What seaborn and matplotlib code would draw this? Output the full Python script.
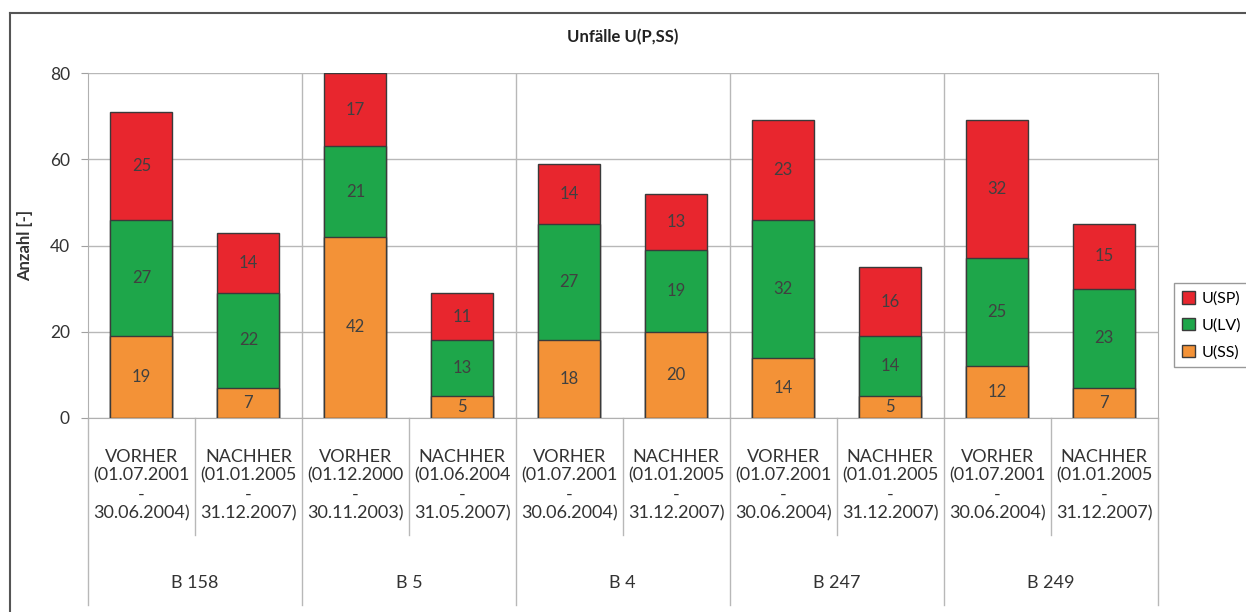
import numpy as np
import pandas as pd
import matplotlib.pyplot as plt
import matplotlib.transforms as mtransforms
from matplotlib.patches import Patch
import seaborn as sns

strecken = ['B 158', 'B 5', 'B 4', 'B 247', 'B 249']
zeitraum = [
    'VORHER\n(01.07.2001\n-\n30.06.2004)', 'NACHHER\n(01.01.2005\n-\n31.12.2007)',
    'VORHER\n(01.12.2000\n-\n30.11.2003)', 'NACHHER\n(01.06.2004\n-\n31.05.2007)',
    'VORHER\n(01.07.2001\n-\n30.06.2004)', 'NACHHER\n(01.01.2005\n-\n31.12.2007)',
    'VORHER\n(01.07.2001\n-\n30.06.2004)', 'NACHHER\n(01.01.2005\n-\n31.12.2007)',
    'VORHER\n(01.07.2001\n-\n30.06.2004)', 'NACHHER\n(01.01.2005\n-\n31.12.2007)',
]
u_ss = [19, 7, 42, 5, 18, 20, 14, 5, 12, 7]
u_lv = [27, 22, 21, 13, 27, 19, 32, 14, 25, 23]
u_sp = [25, 14, 17, 11, 14, 13, 23, 16, 32, 15]

c_sp = '#E8262E'
c_lv = '#1EA64A'
c_ss = '#F39237'

plt.rcParams['font.family'] = ['Lato', 'DejaVu Sans']

df = pd.DataFrame({'pos': range(len(u_ss)), 'ss': u_ss, 'lv': u_lv, 'sp': u_sp})
df['ss_lv'] = df['ss'] + df['lv']
df['total'] = df['ss_lv'] + df['sp']

fig = plt.figure(figsize=(12.46, 6.12), dpi=100)
ax = fig.add_axes([0.0706, 0.317, 0.8584, 0.5637])

# stacked bars drawn as overlapping cumulative totals
for col, color in [('total', c_sp), ('ss_lv', c_lv), ('ss', c_ss)]:
    sns.barplot(data=df, x='pos', y=col, color=color, width=0.58,
                edgecolor='#3a3a3a', linewidth=1.0, saturation=1, ax=ax, zorder=3)

# segment labels
for i in range(len(u_ss)):
    for bottom, val in [(0, u_ss[i]), (u_ss[i], u_lv[i]), (u_ss[i] + u_lv[i], u_sp[i])]:
        ax.text(i, bottom + val / 2, str(val), ha='center', va='center',
                fontsize=12, color='#404040', zorder=4)

ax.set_ylim(0, 80)
ax.set_xlim(-0.5, len(u_ss) - 0.5)
ax.set_yticks([0, 20, 40, 60, 80])
ax.tick_params(axis='y', labelsize=12.5, labelcolor='#333333', length=5, color='#a0a0a0', pad=8)
ax.set_xticks(range(len(zeitraum)))
ax.set_xticklabels(zeitraum, fontsize=13, color='#333333', linespacing=1.22)
ax.tick_params(axis='x', length=0, pad=22)
ax.set_xlabel('')
ax.set_ylabel('Anzahl [-]', fontsize=12, fontweight='bold', color='#333333', labelpad=12)
ax.set_title('Unfälle U(P,SS)', fontsize=12, fontweight='bold', color='#222222', pad=22)

ax.grid(axis='y', color='#b8b8b8', linewidth=1.0, zorder=0)
ax.set_axisbelow(True)
ax.spines['top'].set_visible(False)
for s in ['left', 'right', 'bottom']:
    ax.spines[s].set_color('#b0b0b0')

# vertical separators: group lines inside plot, category lines below axis
trans = mtransforms.blended_transform_factory(ax.transData, ax.transAxes)
for g in range(1, len(strecken)):
    xb = 2 * g - 0.5
    ax.plot([xb, xb], [0, 1], transform=trans, color='#b8b8b8', linewidth=1.0, zorder=1)
for k in range(len(zeitraum) + 1):
    xb = k - 0.5
    y_low = -0.542 if k % 2 == 0 else -0.339
    ax.plot([xb, xb], [0, y_low], transform=trans, color='#b8b8b8',
            linewidth=1.0, clip_on=False)
for g, name in enumerate(strecken):
    ax.text(2 * g + 0.5, -0.478, name, transform=trans, ha='center', va='center',
            fontsize=13, color='#333333')

handles = [Patch(facecolor=c_sp, edgecolor='#3a3a3a', label='U(SP)'),
           Patch(facecolor=c_lv, edgecolor='#3a3a3a', label='U(LV)'),
           Patch(facecolor=c_ss, edgecolor='#3a3a3a', label='U(SS)')]
leg = fig.legend(handles=handles, loc='upper left', bbox_to_anchor=(0.936, 0.55),
                 fontsize=11.5, frameon=True, fancybox=False, handlelength=0.8,
                 handleheight=0.8, handletextpad=0.4, labelspacing=0.75,
                 borderpad=0.5, edgecolor='#808080')
leg.get_frame().set_linewidth(1.0)

# outer chart border
fig.add_artist(plt.Line2D([0.008, 0.008], [0.0, 0.979], color='#555555', linewidth=1.5))
fig.add_artist(plt.Line2D([0.008, 1.0], [0.979, 0.979], color='#555555', linewidth=1.5))

fig.savefig('out.png', dpi=100)
